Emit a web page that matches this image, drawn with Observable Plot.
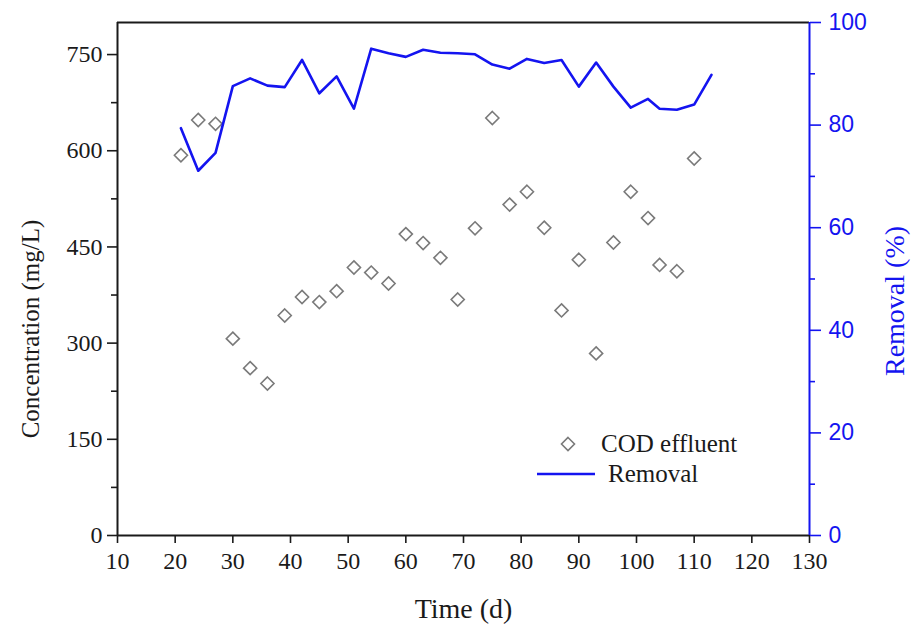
<!DOCTYPE html>
<html>
<head>
<meta charset="utf-8">
<script src="https://cdn.jsdelivr.net/npm/d3@7"></script>
<script src="https://cdn.jsdelivr.net/npm/@observablehq/plot@0.6"></script>
<style>
  html, body { margin: 0; padding: 0; background: #fff; }
  #wrap { position: relative; width: 912px; height: 632px; }
  .leg { position: absolute; font-family: "Liberation Serif", serif; font-size: 25px; color: #1a1a1a; line-height: 1; white-space: nowrap; }
</style>
</head>
<body>
<div id="wrap"></div>
<script>
// ---- data ----
const codDays = [21,24,27,30,33,36,39,42,45,48,51,54,57,60,63,66,69,72,75,78,81,84,87,90,93,96,99,102,104,107,110];
const codEffluent = [593,648,642,307,261,237,343,372,364,381,418,410,393,470,456,433,368,479,651,516,536,480,351,430,284,457,536,495,422,412,588];
const removalDays = [21,24,27,30,33,36,39,42,45,48,51,54,57,60,63,66,69,72,75,78,81,84,87,90,93,96,99,102,104,107,110,113];
const removalPct = [79.4,71.1,74.6,87.6,89.1,87.7,87.4,92.7,86.2,89.5,83.2,94.9,94.0,93.3,94.7,94.1,94.0,93.8,91.8,91.0,92.9,92.1,92.7,87.5,92.2,87.5,83.4,85.1,83.2,83.0,84.0,89.8];
const xTicks = [10,20,30,40,50,60,70,80,90,100,110,120,130];
const yLeftTicks = [0,150,300,450,600,750];
const yLeftMinor = [75,225,375,525,675];
const yRightTicks = [0,20,40,60,80,100];
const yRightMinor = [10,30,50,70,90];
const xDomain = [10,130];
const yLeftDomain = [0,800];
const yRightDomain = [0,100];

const cod = codDays.map((d,i) => ({day: d, value: codEffluent[i]}));
const rem = removalDays.map((d,i) => ({day: d, value: removalPct[i]}));
const k = yLeftDomain[1] / yRightDomain[1]; // map removal onto left scale

const serif = "Liberation Serif, Times New Roman, serif";
const sans = "Liberation Sans, Arial, sans-serif";
const blue = "#1414f0";
const ink = "#1a1a1a";

const chart = Plot.plot({
  width: 912,
  height: 632,
  marginLeft: 117,
  marginRight: 103,
  marginTop: 22,
  marginBottom: 97,
  style: {background: "#fff", overflow: "visible"},
  x: {domain: xDomain},
  y: {domain: yLeftDomain},
  marks: [
    // frame
    Plot.ruleX([xDomain[0]], {y1: yLeftDomain[0], y2: yLeftDomain[1], stroke: ink, strokeWidth: 2}),
    Plot.ruleY([yLeftDomain[1]], {x1: xDomain[0], x2: xDomain[1], stroke: ink, strokeWidth: 2}),
    Plot.ruleY([yLeftDomain[0]], {x1: xDomain[0], x2: xDomain[1], stroke: ink, strokeWidth: 2}),
    Plot.ruleX([xDomain[1]], {y1: yLeftDomain[0], y2: yLeftDomain[1], stroke: blue, strokeWidth: 2}),
    // bottom axis
    Plot.axisX({ticks: xTicks, tickSize: 8, tickPadding: 8, fontSize: 24, fontFamily: serif, color: ink, strokeWidth: 1.6, label: null}),
    // left axis
    Plot.axisY({ticks: yLeftTicks, tickSize: 10, tickPadding: 5, fontSize: 24, fontFamily: serif, color: ink, strokeWidth: 1.6, label: null}),
    Plot.axisY({ticks: yLeftMinor, tickSize: 6, tickFormat: () => "", color: ink, strokeWidth: 1.6, label: null}),
    // right axis (removal %)
    Plot.axisY({anchor: "right", ticks: yRightTicks.map(v => v * k), tickFormat: d => d / k, tickSize: 11, tickPadding: 8, fontSize: 23, fontFamily: sans, color: blue, strokeWidth: 1.6, label: null}),
    Plot.axisY({anchor: "right", ticks: yRightMinor.map(v => v * k), tickSize: 5, tickFormat: () => "", color: blue, strokeWidth: 1.6, label: null}),
    // data
    Plot.dot(cod, {x: "day", y: "value", symbol: "diamond2", r: 5.9, stroke: "#7a7a7a", strokeWidth: 1.6, fill: "none"}),
    Plot.line(rem, {x: "day", y: d => d.value * k, stroke: blue, strokeWidth: 2.6}),
    // titles
    Plot.text(["Concentration (mg/L)"], {frameAnchor: "left", textAnchor: "middle", lineAnchor: "middle", rotate: -90, dx: -87, dy: 50, fontSize: 25, fontFamily: serif, fill: ink}),
    Plot.text(["Time (d)"], {frameAnchor: "bottom", textAnchor: "middle", lineAnchor: "middle", dy: 74, fontSize: 28, fontFamily: serif, fill: ink}),
    Plot.text(["Removal (%)"], {frameAnchor: "right", textAnchor: "middle", lineAnchor: "middle", rotate: -90, dx: 86, dy: 22, fontSize: 28, fontFamily: serif, fill: blue})
  ]
});
const wrap = document.getElementById("wrap");
wrap.appendChild(chart);

// legend overlay
const legend = document.createElement("div");
legend.innerHTML = `
  <svg style="position:absolute;left:0;top:0;overflow:visible" width="912" height="632">
    <path d="M568,437.5L574.5,444L568,450.5L561.5,444Z" fill="none" stroke="#7a7a7a" stroke-width="1.6"/>
    <line x1="537" y1="474" x2="595" y2="474" stroke="${blue}" stroke-width="2.6"/>
  </svg>
  <div class="leg" style="left:601px;top:431px">COD effluent</div>
  <div class="leg" style="left:608px;top:461px">Removal</div>`;
wrap.appendChild(legend);
</script>
</body>
</html>
